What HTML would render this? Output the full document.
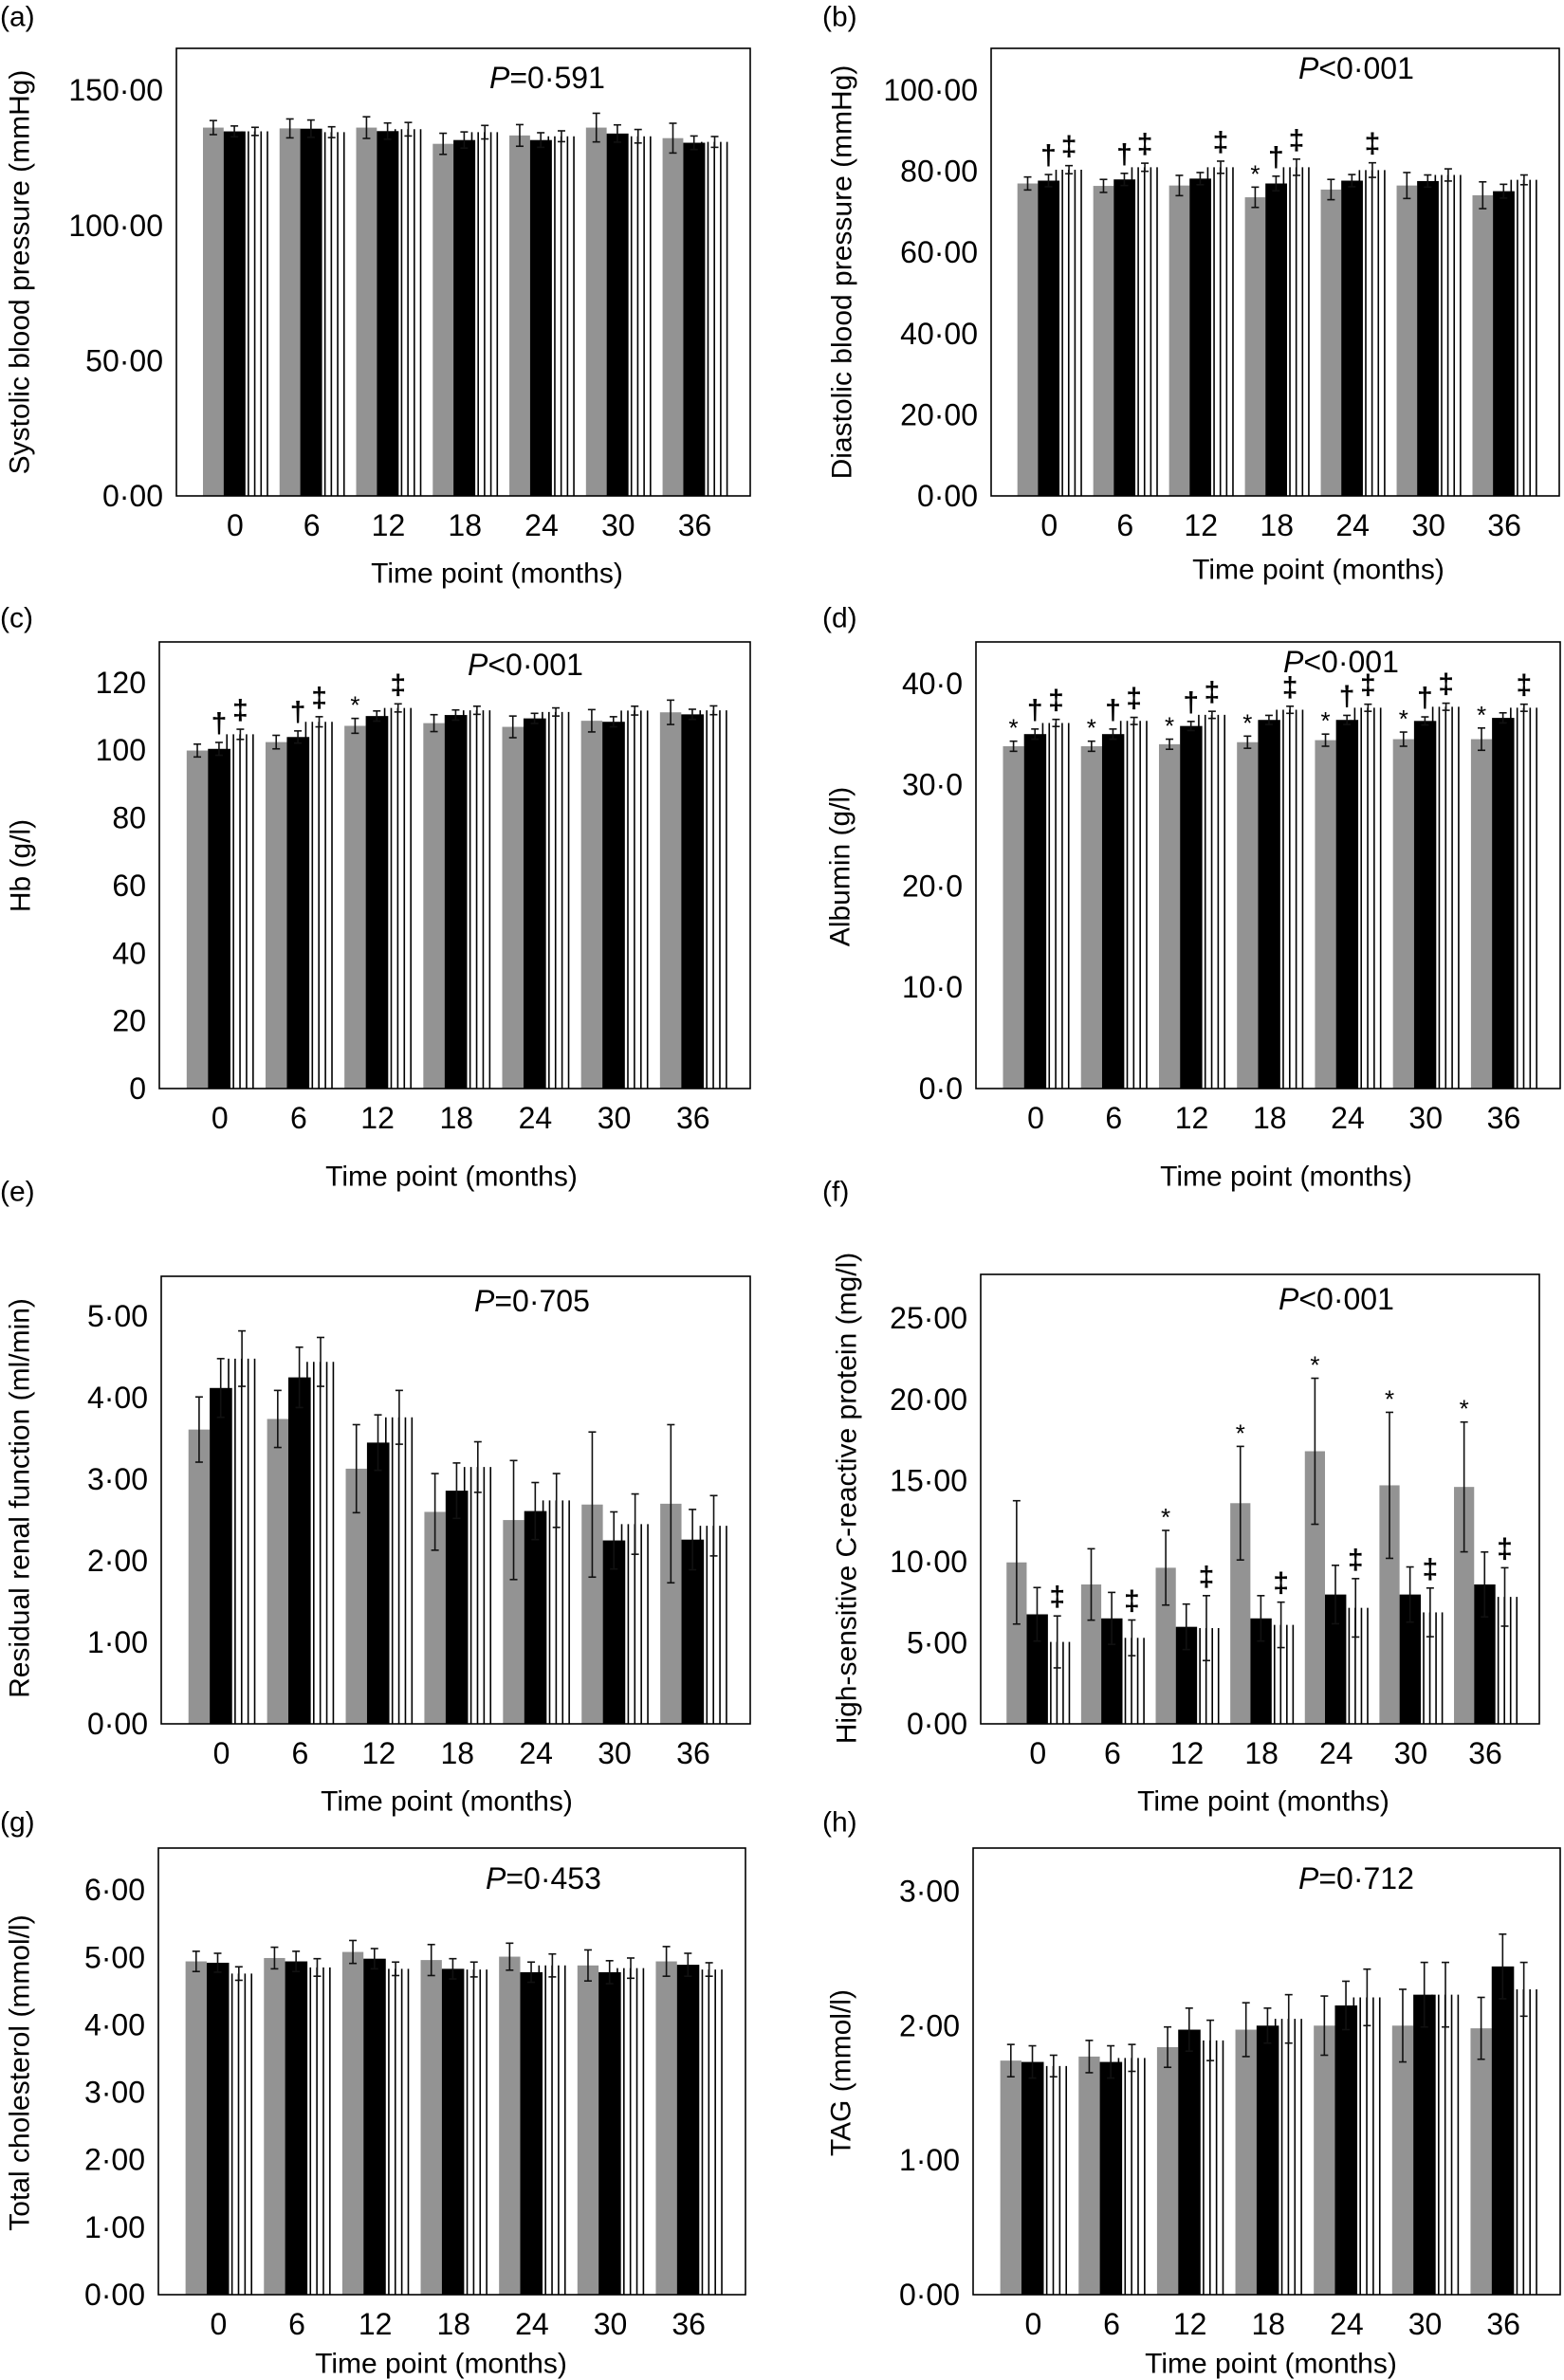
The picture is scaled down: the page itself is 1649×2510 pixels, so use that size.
<!DOCTYPE html>
<html><head><meta charset="utf-8"><style>
html,body{margin:0;padding:0;background:#fff;}
svg{display:block;font-family:"Liberation Sans",Arial,sans-serif;}
</style></head><body>
<svg id="fig" width="1649" height="2510" viewBox="0 0 1649 2510" xmlns="http://www.w3.org/2000/svg"></svg>
<script>
// ---- shared categories ----
const categories = ["0","6","12","18","24","30","36"];

// (a) Systolic blood pressure
const aGray = [136.2,135.9,136.2,130.2,133.3,136.2,132.3];
const aGrayErr = [2.6,3.5,4,3.9,4,5.3,5.5];
const aBlack = [134.8,135.8,134.9,131.6,131.6,134,130.6];
const aBlackErr = [2,3.2,3,3,2.7,3.2,2.5];
const aStripe = [134.8,134.5,135.6,134.5,133,133,130.9];
const aStripeErr = [1.5,2,2.5,2.5,2,2.5,2];
const aTicks = ["0·00","50·00","100·00","150·00"];
const aTickVals = [0,50,100,150];

// (b) Diastolic blood pressure
const bGray = [77.0,76.4,76.5,73.6,75.5,76.5,74.1];
const bGrayErr = [1.6,1.6,2.5,2.5,2.5,3.2,3.3];
const bBlack = [77.7,78.0,78.2,77.0,77.7,77.6,75.1];
const bBlackErr = [1.5,1.5,1.5,1.8,1.5,1.5,1.7];
const bStripe = [80.4,81.0,81.0,81.0,80.3,79.1,77.9];
const bStripeErr = [1,1,1.5,2,1.8,1.5,1.2];
const bGrayMarks = ["","","","*","","",""];
const bBlackMarks = ["†","†","","†","","",""];
const bStripeMarks = ["‡","‡","‡","‡","‡","",""];
const bTicks = ["0·00","20·00","40·00","60·00","80·00","100·00"];
const bTickVals = [0,20,40,60,80,100];

// (c) Hb
const cGray = [99.9,102.4,107.2,108,106.9,108.7,111.2];
const cGrayErr = [1.9,2,2.2,2.5,3.2,3.3,3.6];
const cBlack = [100.4,103.9,110.1,110.4,109.4,108.4,110.6];
const cBlackErr = [1.9,1.8,1.5,1.5,1.5,1.5,1.5];
const cStripe = [104.7,108.4,112.5,111.8,111.3,111.7,111.8];
const cStripeErr = [1.5,1.5,1.2,1.2,1.2,1.3,1.3];
const cGrayMarks = ["","","*","","","",""];
const cBlackMarks = ["†","†","","","","",""];
const cStripeMarks = ["‡","‡","‡","","","",""];
const cTicks = ["0","20","40","60","80","100","120"];
const cTickVals = [0,20,40,60,80,100,120];

// (d) Albumin
const dGray = [33.8,33.8,34.0,34.2,34.4,34.5,34.5];
const dGrayErr = [0.5,0.5,0.5,0.6,0.6,0.7,1.1];
const dBlack = [35.0,35.0,35.8,36.4,36.4,36.3,36.6];
const dBlackErr = [0.5,0.5,0.45,0.45,0.45,0.4,0.5];
const dStripe = [36.1,36.3,36.9,37.4,37.6,37.7,37.6];
const dStripeErr = [0.35,0.35,0.35,0.35,0.35,0.35,0.35];
const dGrayMarks = ["*","*","*","*","*","*","*"];
const dBlackMarks = ["†","†","†","","†","†",""];
const dStripeMarks = ["‡","‡","‡","‡","‡","‡","‡"];
const dTicks = ["0·0","10·0","20·0","30·0","40·0"];
const dTickVals = [0,10,20,30,40];

// (e) Residual renal function
const eGray = [3.61,3.74,3.13,2.60,2.50,2.69,2.70];
const eGrayErr = [0.4,0.35,0.54,0.47,0.73,0.89,0.97];
const eBlack = [4.12,4.25,3.45,2.86,2.61,2.25,2.26];
const eBlackErr = [0.36,0.37,0.34,0.34,0.35,0.35,0.37];
const eStripe = [4.48,4.44,3.76,3.15,2.74,2.45,2.43];
const eStripeErr = [0.34,0.3,0.33,0.31,0.33,0.37,0.37];
const eTicks = ["0·00","1·00","2·00","3·00","4·00","5·00"];
const eTickVals = [0,1,2,3,4,5];

// (f) hs-CRP
const fGray = [9.95,8.59,9.62,13.6,16.8,14.7,14.6];
const fGrayErr = [3.8,2.2,2.3,3.5,4.5,4.5,4.0];
const fBlack = [6.75,6.5,5.98,6.5,7.97,7.97,8.59];
const fBlackErr = [1.65,1.6,1.4,1.4,1.8,1.7,2.0];
const fStripe = [5.05,5.3,5.9,6.1,7.15,6.87,7.82];
const fStripeErr = [1.6,1.1,2.0,1.4,1.8,1.5,1.8];
const fGrayMarks = ["","","*","*","*","*","*"];
const fStripeMarks = ["‡","‡","‡","‡","‡","‡","‡"];
const fTicks = ["0·00","5·00","10·00","15·00","20·00","25·00"];
const fTickVals = [0,5,10,15,20,25];

// (g) Total cholesterol
const gGray = [4.94,4.99,5.08,4.96,5.01,4.88,4.94];
const gGrayErr = [0.15,0.16,0.17,0.23,0.2,0.23,0.22];
const gBlack = [4.92,4.94,4.98,4.83,4.78,4.78,4.89];
const gBlackErr = [0.14,0.15,0.15,0.15,0.15,0.17,0.17];
const gStripe = [4.76,4.85,4.83,4.82,4.88,4.84,4.82];
const gStripeErr = [0.1,0.13,0.1,0.11,0.17,0.15,0.1];
const gTicks = ["0·00","1·00","2·00","3·00","4·00","5·00","6·00"];
const gTickVals = [0,1,2,3,4,5,6];

// (h) TAG
const hGray = [1.74,1.77,1.84,1.97,2.0,2.0,1.98];
const hGrayErr = [0.12,0.12,0.15,0.2,0.22,0.27,0.23];
const hBlack = [1.73,1.73,1.97,2.0,2.15,2.23,2.44];
const hBlackErr = [0.12,0.12,0.16,0.13,0.18,0.24,0.24];
const hStripe = [1.70,1.76,1.89,2.05,2.21,2.23,2.27];
const hStripeErr = [0.08,0.1,0.15,0.18,0.21,0.24,0.2];
const hTicks = ["0·00","1·00","2·00","3·00"];
const hTickVals = [0,1,2,3];

const NS = "http://www.w3.org/2000/svg";
const svg = document.getElementById("fig");
function mk(tag, attrs, parent){
  const e = document.createElementNS(NS, tag);
  for (const k in attrs) e.setAttribute(k, attrs[k]);
  (parent||svg).appendChild(e);
  return e;
}
function txt(parent, x, y, s, size, anchor, extra){
  const t = mk("text", Object.assign({x:x, y:y, "font-size":size, "text-anchor":anchor||"middle", "dominant-baseline":"central", fill:"#000"}, extra||{}), parent);
  t.textContent = s;
  return t;
}

function panel(p){
  const g = mk("g", {});
  
  
  const W = p.right - p.left, H = p.axis - p.top;
  const yS = v => p.axis - (v / p.max) * H;
  const step = W * 0.1335;
  const xC = i => p.left + W * 0.109 + i * step;

  // panel letter
  const lab = txt(g, p.labX, p.labY, "(" + p.id + ")", 30, "start");
  
  

  // bars
  const series = [
    {vals:p.gray, err:p.grayErr, marks:p.grayMarks, kind:"gray"},
    {vals:p.black, err:p.blackErr, marks:p.blackMarks, kind:"black"},
    {vals:p.stripe, err:p.stripeErr, marks:p.stripeMarks, kind:"stripe"}
  ];
  series.forEach(s => {
    s.vals.forEach((v, i) => {
      const c = xC(i);
      const top = yS(v);
      let ex;
      if (s.kind === "gray"){
        const r = mk("rect", {x:c - 0.47*step, y:top, width:0.27*step, height:p.axis - top, fill:"#939393"}, g);
        
        
        ex = c - 0.335*step;
      } else if (s.kind === "black"){
        const r = mk("rect", {x:c - 0.2*step, y:top, width:0.285*step, height:p.axis - top, fill:"#000"}, g);
        
        
        ex = c - 0.06*step;
      } else {
        const sg = mk("g", {}, g);
        
        
        for (let k = 0; k < 5; k++){
          const lx = c + 0.04*step + k*0.083*step;
          mk("line", {x1:lx, x2:lx, y1:top, y2:p.axis, stroke:"#000", "stroke-width":1.6}, sg);
        }
        ex = c + 0.21*step;
      }
      const e = s.err[i];
      const eg = mk("g", {stroke:"#111", "stroke-width":1.6}, g);
      
      
      mk("line", {x1:ex, x2:ex, y1:yS(v+e), y2:yS(v-e)}, eg);
      mk("line", {x1:ex-4, x2:ex+4, y1:yS(v+e), y2:yS(v+e)}, eg);
      mk("line", {x1:ex-4, x2:ex+4, y1:yS(v-e), y2:yS(v-e)}, eg);
      if (s.marks && s.marks[i]){
        const m = s.marks[i];
        const isStar = m === "*";
        const mt = txt(g, ex, yS(v+e) - (isStar ? 14 : 20), m, isStar ? 26 : 30, "middle", {"font-weight": isStar ? "normal" : "bold"});
        
        
      }
    });
  });

  // frame
  const fr = mk("rect", {x:p.left, y:p.top, width:W, height:H, fill:"none", stroke:"#000", "stroke-width":1.6}, g);
  
  

  // y ticks
  p.ticks.forEach((t, i) => {
    const tt = txt(g, p.left - 14, yS(p.tickVals[i]), t, 32, "end");
    
    
  });
  // x ticks
  categories.forEach((c, i) => {
    const tt = txt(g, xC(i) - 0.05*step, p.axis + 31, c, 32, "middle");
    
    
  });
  // x title
  const xt = txt(g, p.xtX, p.xtY, "Time point (months)", 30, "middle");
  
  
  // y title
  const yt = txt(g, 0, 0, p.ytitle, 30, "middle", {transform:"translate(" + p.ytX + "," + p.ytY + ") rotate(-90)"});
  
  
  // p value
  const pv = mk("text", {x:p.pX, y:p.pY, "font-size":32, "dominant-baseline":"central", fill:"#000"}, g);
  
  
  const ts = mk("tspan", {"font-style":"italic"}, pv); ts.textContent = "P";
  const ts2 = mk("tspan", {}, pv); ts2.textContent = p.ptext;
}

panel({id:"a", left:186, right:791, top:51, axis:523, max:165.5, gray:aGray, grayErr:aGrayErr, black:aBlack, blackErr:aBlackErr, stripe:aStripe, stripeErr:aStripeErr,
  ticks:aTicks, tickVals:aTickVals, labX:0, labY:18, xtX:524, xtY:605, ytitle:"Systolic blood pressure (mmHg)", ytX:21, ytY:287, pX:516, pY:82, ptext:"=0·591"});
panel({id:"b", left:1045, right:1644, top:51, axis:523, max:110.3, gray:bGray, grayErr:bGrayErr, black:bBlack, blackErr:bBlackErr, stripe:bStripe, stripeErr:bStripeErr,
  grayMarks:bGrayMarks, blackMarks:bBlackMarks, stripeMarks:bStripeMarks,
  ticks:bTicks, tickVals:bTickVals, labX:867, labY:18, xtX:1390, xtY:601, ytitle:"Diastolic blood pressure (mmHg)", ytX:888, ytY:287, pX:1369, pY:72, ptext:"<0·001"});
panel({id:"c", left:168, right:791, top:677, axis:1148, max:132, gray:cGray, grayErr:cGrayErr, black:cBlack, blackErr:cBlackErr, stripe:cStripe, stripeErr:cStripeErr,
  grayMarks:cGrayMarks, blackMarks:cBlackMarks, stripeMarks:cStripeMarks,
  ticks:cTicks, tickVals:cTickVals, labX:0, labY:652, xtX:476, xtY:1241, ytitle:"Hb (g/l)", ytX:22, ytY:913, pX:493, pY:701, ptext:"<0·001"});
panel({id:"d", left:1029, right:1645, top:677, axis:1148, max:44.1, gray:dGray, grayErr:dGrayErr, black:dBlack, blackErr:dBlackErr, stripe:dStripe, stripeErr:dStripeErr,
  grayMarks:dGrayMarks, blackMarks:dBlackMarks, stripeMarks:dStripeMarks,
  ticks:dTicks, tickVals:dTickVals, labX:867, labY:652, xtX:1356, xtY:1241, ytitle:"Albumin (g/l)", ytX:886, ytY:914, pX:1353, pY:698, ptext:"<0·001"});
panel({id:"e", left:170, right:791, top:1346, axis:1818, max:5.49, gray:eGray, grayErr:eGrayErr, black:eBlack, blackErr:eBlackErr, stripe:eStripe, stripeErr:eStripeErr,
  ticks:eTicks, tickVals:eTickVals, labX:0, labY:1257, xtX:471, xtY:1900, ytitle:"Residual renal function (ml/min)", ytX:21, ytY:1580, pX:500, pY:1372, ptext:"=0·705"});
panel({id:"f", left:1034, right:1623, top:1344, axis:1818, max:27.7, gray:fGray, grayErr:fGrayErr, black:fBlack, blackErr:fBlackErr, stripe:fStripe, stripeErr:fStripeErr,
  grayMarks:fGrayMarks, stripeMarks:fStripeMarks,
  ticks:fTicks, tickVals:fTickVals, labX:867, labY:1257, xtX:1332, xtY:1900, ytitle:"High-sensitive C-reactive protein (mg/l)", ytX:893, ytY:1580, pX:1348, pY:1370, ptext:"<0·001"});
panel({id:"g", left:167, right:786, top:1949, axis:2420, max:6.62, gray:gGray, grayErr:gGrayErr, black:gBlack, blackErr:gBlackErr, stripe:gStripe, stripeErr:gStripeErr,
  ticks:gTicks, tickVals:gTickVals, labX:0, labY:1922, xtX:465, xtY:2493, ytitle:"Total cholesterol (mmol/l)", ytX:21, ytY:2186, pX:512, pY:1981, ptext:"=0·453"});
panel({id:"h", left:1026, right:1645, top:1949, axis:2420, max:3.32, gray:hGray, grayErr:hGrayErr, black:hBlack, blackErr:hBlackErr, stripe:hStripe, stripeErr:hStripeErr,
  ticks:hTicks, tickVals:hTickVals, labX:867, labY:1922, xtX:1340, xtY:2493, ytitle:"TAG (mmol/l)", ytX:887, ytY:2186, pX:1369, pY:1981, ptext:"=0·712"});
</script>
</body></html>
